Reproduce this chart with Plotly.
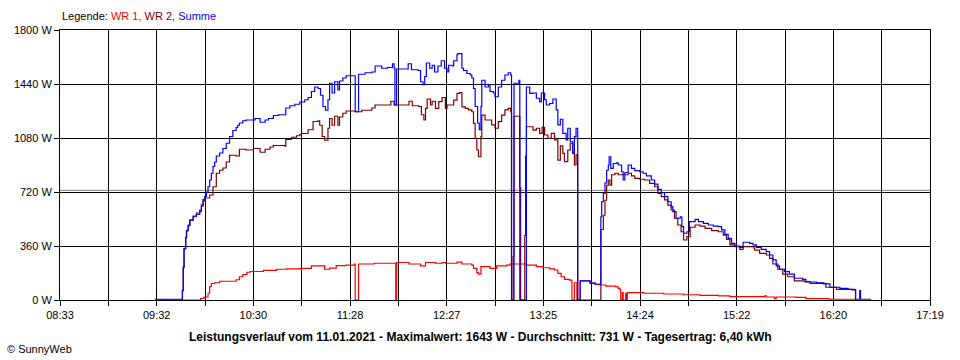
import plotly.graph_objects as go

# ---------------- data ----------------
t_wr1 = ["09:46:30", "09:57:30", "09:58:00", "10:00:00", "10:02:30", "10:03:30", "10:04:30",
         "10:06:30", "10:09:30", "10:19:30", "10:21:30", "10:23:30", "10:26:00", "10:28:00",
         "10:36:00", "10:44:00", "10:50:00", "10:58:00", "11:05:00", "11:13:00", "11:16:00",
         "11:20:00", "11:26:00", "11:31:00", "11:31:30", "11:33:00", "11:33:30", "11:43:00",
         "11:55:00", "11:56:00", "11:56:30", "12:04:00", "12:11:00", "12:14:00", "12:20:00",
         "12:24:00", "12:26:00", "12:33:00", "12:36:00", "12:42:00", "12:43:00", "12:45:00",
         "12:46:00", "12:47:30", "12:53:00", "12:57:00", "13:03:00", "13:05:00", "13:15:00",
         "13:21:00", "13:25:00", "13:29:00", "13:32:00", "13:34:00", "13:36:00", "13:38:00",
         "13:41:00", "13:42:30", "13:44:00", "13:45:30", "13:47:30", "13:53:30", "13:56:30",
         "13:59:30", "14:03:00", "14:09:00", "14:10:30", "14:11:30", "14:12:00", "14:13:00",
         "14:13:30", "14:15:00", "14:15:30", "14:16:00", "14:26:00", "14:38:00", "14:50:00",
         "15:00:00", "15:11:00", "15:18:00", "15:39:00", "15:40:00", "15:45:00", "15:46:00",
         "15:58:00", "16:04:00", "16:18:00", "16:33:30", "16:34:00"]
wr1 = [0, 0, 10, 20, 45, 90, 110,
       115, 125, 135, 155, 170, 185, 190,
       198, 205, 208, 211, 227, 205, 212,
       229, 233, 240, 0, 0, 240, 245,
       245, 0, 250, 240, 227, 250, 245,
       250, 245, 252, 240, 233, 211, 182,
       173, 222, 211, 227, 233, 240, 233,
       222, 215, 207, 200, 178, 155, 138,
       133, 0, 115, 0, 128, 113, 105,
       100, 93, 87, 78, 67, 0, 50,
       0, 45, 0, 49, 45, 40, 35,
       31, 27, 22, 27, 20, 11, 20,
       18, 9, 5, 5, 0]

t_wr2 = ["09:30:30", "09:46:30", "09:47:00", "09:47:30", "09:48:00", "09:49:00", "09:49:30",
         "09:50:30", "09:51:30", "09:53:30", "09:55:30", "09:57:30", "09:58:30", "09:59:30",
         "10:00:30", "10:03:30", "10:05:30", "10:07:30", "10:09:30", "10:11:30", "10:13:30",
         "10:15:30", "10:19:30", "10:21:30", "10:25:30", "10:30:00", "10:34:00", "10:37:00",
         "10:40:00", "10:42:00", "10:49:00", "10:49:30", "10:53:00", "10:56:00", "10:58:00",
         "10:59:00", "11:03:00", "11:06:00", "11:09:00", "11:10:00", "11:11:30", "11:13:00",
         "11:15:00", "11:16:00", "11:17:30", "11:19:00", "11:21:00", "11:22:00", "11:24:00",
         "11:26:00", "11:31:30", "11:35:30", "11:41:30", "11:43:30", "11:53:00", "11:55:00",
         "12:04:00", "12:06:00", "12:10:00", "12:11:30", "12:13:00", "12:14:00", "12:15:00",
         "12:17:00", "12:18:00", "12:20:00", "12:22:00", "12:24:00", "12:26:00", "12:27:00",
         "12:31:00", "12:33:00", "12:34:30", "12:36:00", "12:38:00", "12:40:00", "12:42:00",
         "12:43:00", "12:44:00", "12:45:00", "12:46:00", "12:47:30", "12:48:00", "12:50:00",
         "12:54:00", "12:56:00", "12:58:00", "13:00:00", "13:02:00", "13:04:00", "13:05:30",
         "13:06:00", "13:07:00", "13:07:30", "13:10:30", "13:11:00", "13:11:30", "13:14:00",
         "13:14:30", "13:15:00", "13:19:00", "13:21:00", "13:23:00", "13:24:30", "13:26:00",
         "13:28:00", "13:30:00", "13:32:00", "13:34:00", "13:35:30", "13:37:00", "13:38:00",
         "13:40:00", "13:41:30", "13:43:00", "13:44:00", "13:45:00", "13:46:00", "13:59:30",
         "14:00:00", "14:01:30", "14:02:30", "14:03:30", "14:04:30", "14:05:30", "14:06:30",
         "14:08:30", "14:10:30", "14:16:30", "14:18:30", "14:20:30", "14:23:30", "14:26:30",
         "14:29:30", "14:32:30", "14:34:30", "14:36:30", "14:38:30", "14:40:30", "14:42:30",
         "14:44:30", "14:46:30", "14:48:30", "14:50:00", "14:52:00", "14:54:00", "14:57:00",
         "15:00:00", "15:03:00", "15:07:00", "15:11:00", "15:14:00", "15:16:00", "15:18:00",
         "15:21:00", "15:24:00", "15:26:00", "15:32:30", "15:33:00", "15:36:00", "15:40:00",
         "15:42:00", "15:44:00", "15:47:00", "15:50:00", "15:53:00", "15:57:00", "16:03:00",
         "16:06:30", "16:16:00", "16:22:30", "16:31:30", "16:34:00"]
wr2 = [0, 0, 60, 215, 340, 415, 460,
       495, 530, 555, 570, 590, 625, 660,
       680, 700, 755, 845, 865, 880, 920,
       965, 960, 1005, 1000, 1010, 985, 1005,
       1020, 1030, 1025, 1070, 1085, 1095, 1105,
       1110, 1135, 1190, 1195, 1165, 1090, 1065,
       1145, 1210, 1165, 1225, 1165, 1220, 1245,
       1260, 1255, 1265, 1280, 1300, 1325, 1300,
       1325, 1295, 1290, 1235, 1200, 1278, 1340,
       1300, 1325, 1278, 1322, 1350, 1278, 1300,
       1333, 1378, 1382, 1288, 1278, 1267, 1255,
       1178, 1078, 1000, 955, 1089, 1233, 1200,
       1167, 1145, 1189, 1233, 1267, 1278, 1255,
       0, 290, 1225, 1225, 750, 0, 430,
       960, 1155, 1133, 1145, 1111, 1151, 1100,
       1078, 1111, 1067, 933, 1027, 978, 922,
       1000, 1045, 978, 900, 967, 0, 0,
       470, 565, 665, 765, 800, 765, 835,
       845, 835, 845, 827, 811, 805, 800,
       778, 755, 711, 689, 667, 633, 600,
       545, 500, 455, 400, 422, 485, 500,
       493, 478, 462, 455, 433, 404, 367,
       355, 338, 355, 345, 333, 311, 300,
       278, 240, 205, 173, 155, 128, 122,
       111, 85, 71, 67, 0]

t_sum = ["09:30:30", "09:46:30", "09:47:00", "09:47:30", "09:48:00", "09:49:00", "09:49:30",
         "09:50:30", "09:51:30", "09:53:30", "09:55:30", "09:57:30", "09:58:30", "09:59:30",
         "10:00:30", "10:01:30", "10:02:30", "10:03:30", "10:04:30", "10:05:30", "10:06:30",
         "10:07:30", "10:09:30", "10:11:30", "10:13:30", "10:15:30", "10:17:30", "10:19:30",
         "10:20:30", "10:21:30", "10:23:30", "10:25:30", "10:31:00", "10:34:00", "10:37:00",
         "10:39:00", "10:42:00", "10:45:00", "10:49:30", "10:52:00", "10:55:00", "10:58:00",
         "11:01:00", "11:03:00", "11:05:00", "11:07:00", "11:09:00", "11:10:30", "11:12:00",
         "11:13:30", "11:15:00", "11:16:00", "11:17:30", "11:19:00", "11:21:00", "11:22:00",
         "11:24:00", "11:26:00", "11:31:30", "11:33:30", "11:37:30", "11:41:30", "11:43:30",
         "11:47:30", "11:51:00", "11:54:00", "11:55:00", "11:55:30", "11:56:30", "12:03:30",
         "12:05:30", "12:09:30", "12:11:00", "12:12:30", "12:13:30", "12:14:30", "12:16:30",
         "12:18:00", "12:19:30", "12:21:30", "12:23:30", "12:25:30", "12:27:00", "12:28:00",
         "12:30:00", "12:31:00", "12:33:00", "12:33:30", "12:36:00", "12:37:00", "12:39:00",
         "12:41:00", "12:42:00", "12:43:00", "12:44:00", "12:45:30", "12:46:30", "12:47:30",
         "12:48:00", "12:50:00", "12:52:00", "12:53:00", "12:55:00", "12:56:00", "12:58:00",
         "13:00:00", "13:02:00", "13:04:00", "13:05:30", "13:06:00", "13:07:30", "13:10:30",
         "13:11:00", "13:15:00", "13:17:00", "13:19:00", "13:21:00", "13:23:00", "13:24:00",
         "13:26:00", "13:27:00", "13:29:00", "13:31:00", "13:33:00", "13:34:00", "13:35:30",
         "13:37:00", "13:39:00", "13:40:00", "13:41:30", "13:43:00", "13:44:00", "13:45:00",
         "13:46:00", "13:47:30", "13:53:30", "13:56:30", "13:59:30", "14:00:00", "14:00:30",
         "14:01:30", "14:02:30", "14:03:30", "14:04:30", "14:05:00", "14:06:00", "14:07:30",
         "14:09:30", "14:10:30", "14:12:30", "14:13:30", "14:14:30", "14:16:30", "14:18:30",
         "14:20:30", "14:23:30", "14:25:30", "14:27:30", "14:30:30", "14:32:30", "14:34:30",
         "14:36:30", "14:38:30", "14:40:30", "14:42:30", "14:43:30", "14:45:30", "14:48:00",
         "14:49:00", "14:50:00", "14:52:00", "14:53:30", "14:57:00", "14:59:00", "15:02:00",
         "15:05:00", "15:08:00", "15:11:00", "15:13:00", "15:15:00", "15:17:00", "15:19:00",
         "15:21:00", "15:24:00", "15:26:00", "15:30:00", "15:32:00", "15:34:00", "15:37:00",
         "15:40:00", "15:42:00", "15:44:00", "15:46:00", "15:48:00", "15:51:00", "15:54:00",
         "15:57:00", "16:02:00", "16:04:00", "16:10:30", "16:14:30", "16:18:30", "16:24:30",
         "16:29:30", "16:33:30", "16:34:00", "16:36:30", "16:37:00", "16:43:30"]
summe = [5, 5, 65, 220, 345, 420, 465,
         500, 535, 560, 580, 600, 635, 670,
         690, 720, 755, 800, 845, 890, 920,
         960, 980, 1010, 1045, 1090, 1130, 1150,
         1165, 1180, 1195, 1200, 1210, 1185, 1200,
         1210, 1230, 1235, 1280, 1295, 1305, 1320,
         1335, 1350, 1390, 1420, 1410, 1365, 1290,
         1265, 1335, 1445, 1380, 1455, 1400, 1460,
         1480, 1495, 1255, 1505, 1515, 1520, 1560,
         1545, 1550, 1575, 1545, 1300, 1540, 1575,
         1535, 1530, 1455, 1435, 1490, 1580, 1545,
         1565, 1520, 1560, 1595, 1545, 1520, 1565,
         1560, 1595, 1635, 1643, 1545, 1530, 1510,
         1500, 1480, 1410, 1290, 1180, 1135, 1290,
         1465, 1420, 1435, 1390, 1380, 1355, 1420,
         1465, 1500, 1515, 1500, 0, 1445, 1465,
         0, 1420, 1378, 1380, 1345, 1320, 1380,
         1335, 1300, 1310, 1340, 1267, 1167, 1205,
         1111, 1067, 1145, 1055, 978, 1089, 1145,
         0, 128, 113, 105, 105, 555, 655,
         710, 780, 865, 900, 955, 878, 910,
         915, 900, 855, 800, 850, 900, 878,
         862, 855, 845, 827, 800, 773, 738,
         715, 689, 655, 622, 589, 545, 555,
         489, 445, 455, 522, 538, 522, 511,
         500, 493, 489, 467, 438, 411, 378,
         360, 351, 385, 378, 367, 351, 338,
         322, 300, 267, 227, 205, 189, 173,
         145, 138, 120, 115, 107, 85, 78,
         71, 67, 5, 62, 5, 5]

average_w = 731
y_ticks = [0, 360, 720, 1080, 1440, 1800]
x_tick_labels = ["08:33", "09:32", "10:30", "11:28", "12:27", "13:25", "14:24", "15:22", "16:20", "17:19"]
title_text = ("Leistungsverlauf vom 11.01.2021 - Maximalwert: 1643 W - Durchschnitt: 731 W - "
              "Tagesertrag: 6,40 kWh")


def to_min(s):
    p = [int(v) for v in s.split(":")]
    return p[0] * 60 + p[1] + (p[2] / 60 if len(p) > 2 else 0)


x_start = to_min("08:33")
x_end = to_min("17:19")
n_grid = 18
grid_vals = [x_start + i * (x_end - x_start) / n_grid for i in range(n_grid + 1)]
grid_text = [x_tick_labels[i // 2] if i % 2 == 0 else "" for i in range(n_grid + 1)]

fig = go.Figure()
for name, tt, vv, col in [("WR 1", t_wr1, wr1, "#FF0000"),
                          ("WR 2", t_wr2, wr2, "#800000"),
                          ("Summe", t_sum, summe, "#0000FF")]:
    fig.add_trace(go.Scatter(x=[to_min(s) for s in tt], y=vv, mode="lines", name=name,
                             line=dict(color=col, width=1.2, shape="hv"), showlegend=False))

fig.add_shape(type="line", xref="paper", x0=0, x1=1, yref="y", y0=average_w, y1=average_w,
              line=dict(color="#808080", width=1), layer="below")

font = "Liberation Sans, Arial, sans-serif"
fig.update_layout(
    width=960, height=360,
    margin=dict(l=60, r=30, t=30, b=60, autoexpand=False),
    paper_bgcolor="white", plot_bgcolor="white",
    font=dict(family=font, size=11, color="black"),
    xaxis=dict(range=[x_start, x_end], tickmode="array", tickvals=grid_vals, ticktext=grid_text,
               showgrid=True, gridcolor="black", gridwidth=1, zeroline=False,
               showline=True, linecolor="black", linewidth=1, mirror=True,
               ticks="outside", ticklen=5, tickcolor="black", tickfont=dict(size=11)),
    yaxis=dict(range=[0, 1800], tickmode="array", tickvals=y_ticks,
               ticktext=[f"{v} W" for v in y_ticks],
               showgrid=True, gridcolor="black", gridwidth=1, zeroline=False,
               showline=True, linecolor="black", linewidth=1, mirror=True,
               ticks="outside", ticklen=5, tickcolor="black", tickfont=dict(size=11)),
    annotations=[
        dict(xref="paper", yref="paper", x=0, y=1 + 14 / 270, xanchor="left",
             yanchor="middle", showarrow=False, font=dict(size=11),
             text="Legende: <span style='color:#FF0000'>WR 1,</span> "
                  "<span style='color:#800000'>WR 2,</span> "
                  "<span style='color:#0000FF'>Summe</span>"),
        dict(xref="paper", yref="paper", x=(480 - 60) / 870, y=-37 / 270,
             xanchor="center", yanchor="middle", showarrow=False,
             font=dict(size=12, family="Liberation Sans, Arial, sans-serif"),
             text="<b>" + title_text + "</b>"),
        dict(xref="paper", yref="paper", x=-55 / 870, y=-49 / 270, xanchor="left",
             yanchor="middle", showarrow=False, font=dict(size=11), text="© SunnyWeb"),
    ],
)
fig.update_xaxes(layer="below traces")
fig.write_html("out.html", config={"displayModeBar": False, "staticPlot": True},
               post_script="document.body.style.margin='0';document.body.style.overflow='hidden';")
